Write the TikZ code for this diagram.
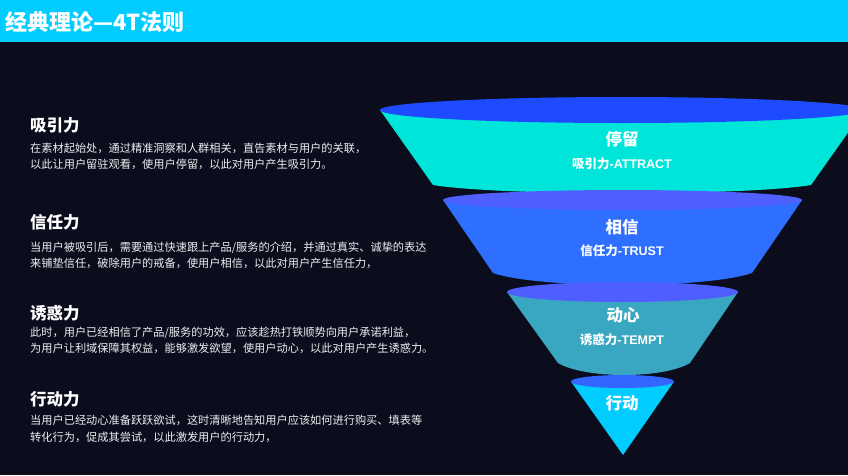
\documentclass[tikz,border=0pt]{standalone}
\usepackage{fontspec}
\setmainfont{Noto Sans CJK SC}
\newfontfamily\lat{Liberation Sans}[UprightFont={* Bold}]
\definecolor{bgc}{HTML}{0B0D1C}
\definecolor{headc}{HTML}{00CCFF}
\definecolor{topa}{HTML}{1E4BFF}
\definecolor{bodya}{HTML}{00E5D9}
\definecolor{topb}{HTML}{5060FF}
\definecolor{bodyb}{HTML}{2F6FFF}
\definecolor{topc}{HTML}{4F5FFF}
\definecolor{bodyc}{HTML}{3AA7C2}
\definecolor{topd}{HTML}{3366FF}
\definecolor{bodyd}{HTML}{00CCFF}
\definecolor{bodytext}{HTML}{EEEEF2}
\tikzset{
  hdr/.style={anchor=base west, inner sep=0, text=white, font=\fontsize{22}{24}\selectfont\bfseries},
  ttl/.style={anchor=base west, inner sep=0, text=white, font=\fontsize{16.5}{18}\selectfont\bfseries},
  txt/.style={anchor=base west, inner sep=0, text=bodytext, font=\fontsize{11.2}{13}\selectfont},
  fbig/.style={anchor=base, inner sep=0, text=white, font=\fontsize{16.5}{18}\selectfont\bfseries},
  fsmall/.style={anchor=base, inner sep=0, text=white, font=\fontsize{12.5}{14}\selectfont\bfseries},
}
\begin{document}
\begin{tikzpicture}[x=1pt,y=-1pt]
\useasboundingbox (0,0) rectangle (848,475);
\fill[bgc] (0,0) rectangle (848,475);
\fill[headc] (0,0) rectangle (848,42);
\node[hdr] (title) at (5,30) {经典理论—4T法则};

% segment 1
\fill[bodya] (380,110) -- (433,185) .. controls (500,196) and (745,196) .. (811,185) -- (864,110) -- cycle;
\fill[topa] (622,110) ellipse[x radius=242, y radius=13];
% segment 2
\fill[bodyb] (443,200) -- (493,273) .. controls (540,289) and (705,289) .. (752,273) -- (802,200) -- cycle;
\fill[topb] (622.5,200) ellipse[x radius=179.5, y radius=10];
% segment 3
\fill[bodyc] (507,292) -- (558,363) .. controls (585,379) and (663,379) .. (690,363) -- (738,292) -- cycle;
\fill[topc] (622.5,292) ellipse[x radius=115.5, y radius=10];
% segment 4
\fill[bodyd] (571,381.5) -- (623,455) -- (674,381.5) -- cycle;
\fill[topd] (622.5,381.5) ellipse[x radius=51.5, y radius=6.5];

\node[fbig] (f1a) at (622,145) {停留};
\node[fsmall] (f1b) at (622,168) {吸引力{\lat-ATTRACT}};
\node[fbig] (f2a) at (622,233) {相信};
\node[fsmall] (f2b) at (622,255) {信任力{\lat-TRUST}};
\node[fbig] (f3a) at (623,321) {动心};
\node[fsmall] (f3b) at (622,344) {诱惑力{\lat-TEMPT}};
\node[fbig] (f4a) at (622,409) {行动};

\node[ttl] (t1) at (30,131) {吸引力};
\node[txt] (t1a) at (30,152) {在素材起始处，通过精准洞察和人群相关，直告素材与用户的关联，};
\node[txt] (t1b) at (30,168.5) {以此让用户留驻观看，使用户停留，以此对用户产生吸引力。};

\node[ttl] (t2) at (30,228) {信任力};
\node[txt] (t2a) at (30,251) {当用户被吸引后，需要通过快速跟上产品/服务的介绍，并通过真实、诚挚的表达};
\node[txt] (t2b) at (30,267) {来铺垫信任，破除用户的戒备，使用户相信，以此对用户产生信任力，};

\node[ttl] (t3) at (30,319.5) {诱惑力};
\node[txt] (t3a) at (30,336.5) {此时，用户已经相信了产品/服务的功效，应该趁热打铁顺势向用户承诺利益，};
\node[txt] (t3b) at (30,352) {为用户让利域保障其权益，能够激发欲望，使用户动心，以此对用户产生诱惑力。};

\node[ttl] (t4) at (30,405) {行动力};
\node[txt] (t4a) at (30,424) {当用户已经动心准备跃跃欲试，这时清晰地告知用户应该如何进行购买、填表等};
\node[txt] (t4b) at (30,441) {转化行为，促成其尝试，以此激发用户的行动力，};
\end{tikzpicture}
\end{document}
